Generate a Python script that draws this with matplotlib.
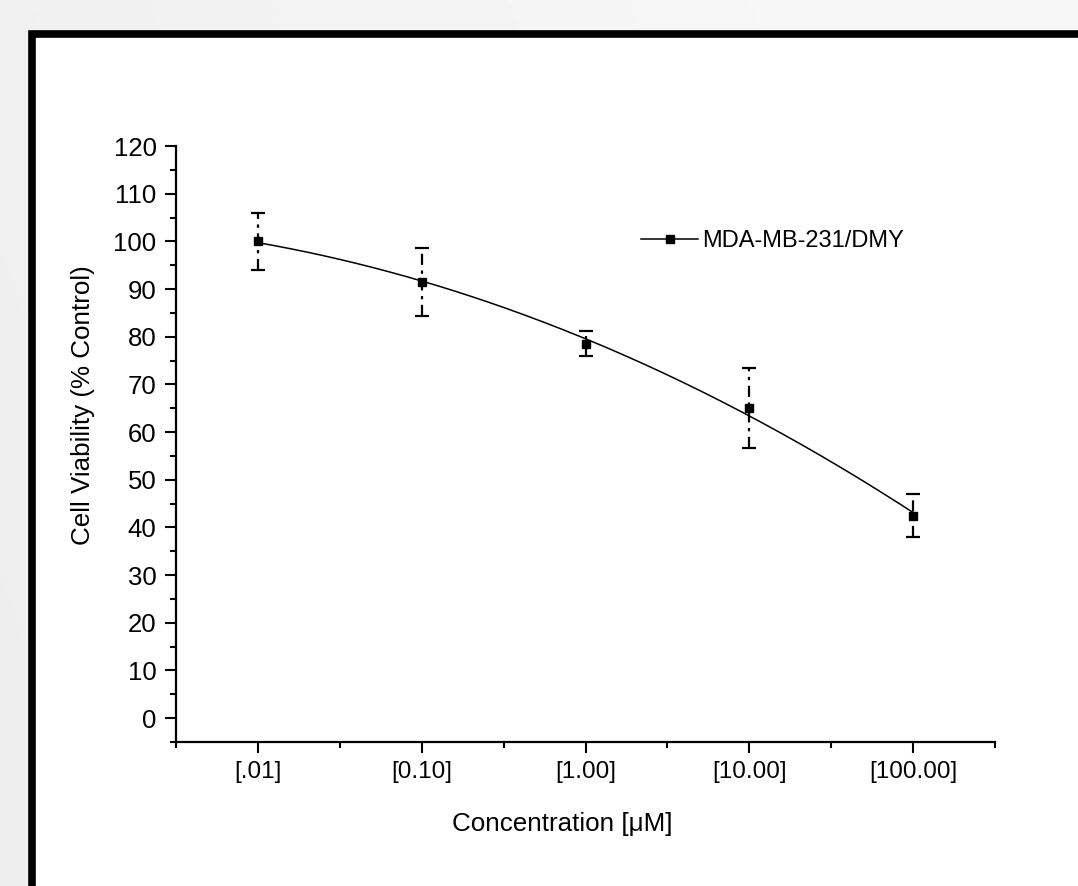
import numpy as np
import matplotlib
matplotlib.use("Agg")
import matplotlib.pyplot as plt
from matplotlib.patches import Rectangle

plt.rcParams['font.family'] = ['Liberation Sans', 'DejaVu Sans']

conc_labels = ["[.01]", "[0.10]", "[1.00]", "[10.00]", "[100.00]"]
viability = [100.0, 91.5, 78.5, 65.0, 42.5]
err = [6.0, 7.2, 2.6, 8.4, 4.5]
series_name = "MDA-MB-231/DMY"

fig = plt.figure(figsize=(10.78, 8.86), dpi=100)

# grey gradient background
bg = fig.add_axes([0, 0, 1, 1], zorder=-10)
gx, gy = np.meshgrid(np.linspace(0, 1, 200), np.linspace(0, 1, 200))
grad = 0.93 + 0.035 * np.clip(gx + (1 - gy) * 0.3, 0, 1)
bg.imshow(grad, cmap='gray', vmin=0, vmax=1, aspect='auto', extent=[0, 1, 0, 1], origin='upper')
bg.axis('off')

# white panel with thick black border
fig.patches.append(Rectangle((32 / 1078, -0.05), 1.1, 1 - 34 / 886 + 0.05,
                             transform=fig.transFigure, facecolor='white',
                             edgecolor='black', linewidth=5.5, zorder=-5))

ax = fig.add_axes([176 / 1078, 1 - 742 / 886, 819 / 1078, 596 / 886])
ax.set_facecolor('none')

x = np.arange(len(viability))
fit = np.polyfit(x, viability, 2)
xs = np.linspace(x[0], x[-1], 200)
ax.plot(xs, np.polyval(fit, xs), color='black', lw=1.1, zorder=2)
ax.plot(x, viability, 's', color='black', ms=6, zorder=3)
ax.plot([], [], '-s', color='black', lw=1.1, ms=6, label=series_name)

eb = ax.errorbar(x, viability, yerr=err, fmt='none', ecolor='black',
                 elinewidth=1.6, capsize=5, capthick=1.6, zorder=2)
eb[2][0].set_linestyle((0, (5, 2.5, 1.5, 2.5)))

ax.set_xlim(-0.5, 4.5)
ax.set_ylim(-5, 120)
ax.set_xticks(x)
ax.set_xticklabels(conc_labels)
ax.set_xticks(np.arange(-0.5, 4.6, 1.0), minor=True)
ax.set_yticks(np.arange(0, 121, 10))
ax.set_yticks(np.arange(-5, 121, 10), minor=True)

for s in ['top', 'right']:
    ax.spines[s].set_visible(False)
for s in ['left', 'bottom']:
    ax.spines[s].set_linewidth(1.6)
ax.tick_params(which='major', direction='out', length=8, width=1.5, pad=6)
ax.tick_params(axis='x', which='major', labelsize=17.5)
ax.tick_params(axis='y', which='major', labelsize=18.5)
ax.tick_params(which='minor', direction='out', length=4, width=1.5)

ax.set_ylabel("Cell Viability (% Control)", fontsize=18.7)
ax.set_xlabel("Concentration [\u03bcM]", fontsize=18.7)
ax.yaxis.set_label_coords(-0.099, 0.565)
ax.xaxis.set_label_coords(0.4713, -0.117)

ax.legend(loc='center left', bbox_to_anchor=(0.568, 0.84), frameon=False,
          fontsize=17, handlelength=2.4, handletextpad=0.2,
          borderpad=0, borderaxespad=0)

fig.savefig("out.png", dpi=100)
